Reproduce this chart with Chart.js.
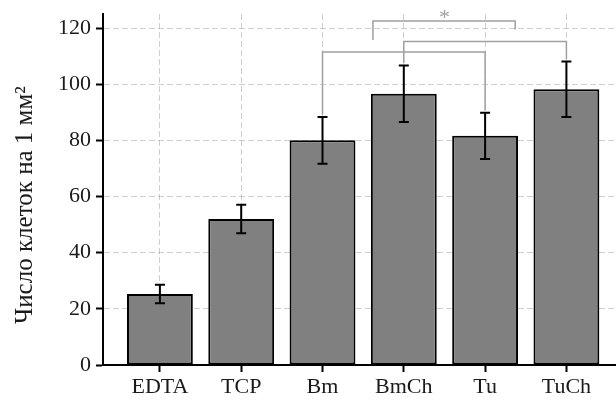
<!DOCTYPE html>
<html>
<head>
<meta charset="utf-8">
<script src="https://cdn.jsdelivr.net/npm/chart.js@4/dist/chart.umd.min.js"></script>
<style>
  html, body { margin: 0; padding: 0; background: #fff; }
  #wrap { width: 616px; height: 400px; }
</style>
</head>
<body>
<div id="wrap"><canvas id="c" width="616" height="400"></canvas></div>
<script>
// ---- data ----
const categories = ['EDTA', 'TCP', 'Bm', 'BmCh', 'Tu', 'TuCh'];
const means = [25.3, 52.0, 80.0, 96.6, 81.6, 98.2];
const errors = [3.3, 5.1, 8.3, 10.1, 8.2, 9.9];
const yTicks = [0, 20, 40, 60, 80, 100, 120];
const yLabel = 'Число клеток на 1 мм²';
// significance brackets (category positions, value units)
const bracketFrom = [2, 3, 2.62];
const bracketTo = [4, 5, 4.37];
const bracketY = [111.5, 115.2, 122.5];
const bracketLeftEnd = [89.2, 107.6, 115.7];
const bracketRightEnd = [90.6, 109.0, 119.5];
const starX = [3.5];
const starY = [124.0];
const starText = ['*'];

const FONT = 'Liberation Serif';
const GRID = 'rgba(170,170,170,0.58)';

const overlay = {
  id: 'overlay',
  afterDraw(chart) {
    const ctx = chart.ctx;
    const xs = chart.scales.x, ys = chart.scales.y;
    ctx.save();
    ctx.setLineDash([]);
    // error bars
    ctx.strokeStyle = '#000';
    ctx.lineWidth = 2;
    means.forEach((m, i) => {
      const x = xs.getPixelForValue(i);
      const yt = ys.getPixelForValue(m + errors[i]);
      const yb = ys.getPixelForValue(m - errors[i]);
      ctx.beginPath();
      ctx.moveTo(x, yt); ctx.lineTo(x, yb);
      ctx.moveTo(x - 5, yt); ctx.lineTo(x + 5, yt);
      ctx.moveTo(x - 5, yb); ctx.lineTo(x + 5, yb);
      ctx.stroke();
    });
    // brackets
    ctx.strokeStyle = '#a0a0a0';
    ctx.lineWidth = 1.5;
    bracketFrom.forEach((f, i) => {
      const x1 = xs.getPixelForValue(f), x2 = xs.getPixelForValue(bracketTo[i]);
      const y = ys.getPixelForValue(bracketY[i]);
      ctx.beginPath();
      ctx.moveTo(x1, ys.getPixelForValue(bracketLeftEnd[i]));
      ctx.lineTo(x1, y);
      ctx.lineTo(x2, y);
      ctx.lineTo(x2, ys.getPixelForValue(bracketRightEnd[i]));
      ctx.stroke();
    });
    ctx.fillStyle = '#a0a0a0';
    ctx.font = '22px "' + FONT + '"';
    ctx.textAlign = 'center';
    ctx.textBaseline = 'middle';
    starX.forEach((sx, i) => {
      ctx.fillText(starText[i], xs.getPixelForValue(sx), ys.getPixelForValue(starY[i]) + 1);
    });
    ctx.restore();
  }
};

new Chart(document.getElementById('c'), {
  type: 'bar',
  data: {
    datasets: [{
      data: means.map((v, i) => ({ x: i, y: v })),
      backgroundColor: '#808080',
      borderColor: '#000',
      borderWidth: 2,
      borderSkipped: false,
      barPercentage: 0.81,
      categoryPercentage: 1.0
    }]
  },
  options: {
    responsive: false,
    animation: false,
    layout: { padding: { top: 14, right: 0, left: 0, bottom: 0 } },
    plugins: { legend: { display: false }, tooltip: { enabled: false } },
    scales: {
      x: {
        type: 'linear',
        min: -0.7,
        max: 5.61,
        offset: false,
        z: 1,
        afterBuildTicks(scale) { scale.ticks = categories.map((c, i) => ({ value: i })); },
        afterFit(scale) { scale.height = 35; scale.paddingLeft = 0; scale.paddingRight = 0; },
        ticks: {
          callback: (v) => categories[v],
          font: { family: FONT, size: 22 },
          color: '#1a1a1a',
          padding: 2,
          maxRotation: 0,
          autoSkip: false
        },
        grid: {
          offset: false,
          color: GRID,
          tickColor: '#000',
          tickBorderDash: [],
          tickWidth: 2,
          tickLength: 7,
          lineWidth: 1
        },
        border: { display: true, color: '#000', width: 2, dash: [6, 3] }
      },
      y: {
        min: 0,
        max: 125,
        z: 1,
        afterBuildTicks(scale) { scale.ticks = yTicks.map(v => ({ value: v })); },
        afterFit(scale) { scale.width = 103; scale.paddingTop = 0; scale.paddingBottom = 0; },
        ticks: {
          font: { family: FONT, size: 22 },
          color: '#1a1a1a',
          padding: 5
        },
        grid: {
          color: (c) => c.tick && c.tick.value === 0 ? 'rgba(0,0,0,0)' : GRID,
          tickColor: '#000',
          tickBorderDash: [],
          tickWidth: 2,
          tickLength: 7,
          lineWidth: 1
        },
        border: { display: true, color: '#000', width: 2, dash: [6, 3] },
        title: {
          display: true,
          text: yLabel + '\u00A0\u00A0\u00A0\u00A0\u00A0',
          font: { family: FONT, size: 25 },
          color: '#1a1a1a',
          padding: { top: 10, bottom: 0 }
        }
      }
    }
  },
  plugins: [overlay]
});
</script>
</body>
</html>
